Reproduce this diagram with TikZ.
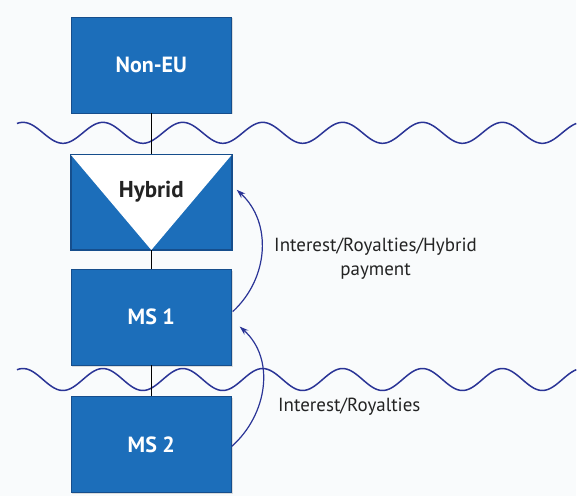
\documentclass[tikz,border=0pt]{standalone}
\usepackage{fontspec}
\setmainfont{PT Sans}
\usetikzlibrary{arrows.meta,shadows}
\definecolor{boxblue}{RGB}{28,110,186}
\definecolor{boxedge}{RGB}{22,78,140}
\definecolor{navy}{RGB}{42,52,150}
\definecolor{bgcol}{RGB}{249,251,252}
\definecolor{txt}{RGB}{35,35,35}
\begin{document}
\begin{tikzpicture}[x=1pt,y=-1pt,
  entity/.style={rectangle, fill=boxblue, draw=boxedge, line width=0.6pt,
    minimum width=161pt, minimum height=96pt, inner sep=0pt,
    text=white, font=\fontsize{22}{26}\selectfont\bfseries,
    drop shadow={shadow xshift=1.5pt, shadow yshift=-1.5pt, opacity=0.25}},
  wave/.style={navy, line width=1.5pt},
  link/.style={black, line width=0.8pt},
  flow/.style={navy, line width=1.2pt, -{Stealth[length=9pt,width=6pt]}},
  lbl/.style={text=txt, font=\fontsize{19}{24}\selectfont, align=center}]
\fill[bgcol] (0,0) rectangle (577,497);
% waves
\draw[wave] plot[domain=17:577, samples=240, smooth] (\x, {133 - 10.5*cos((\x-23)*4.5)});
\draw[wave] plot[domain=17:577, samples=240, smooth] (\x, {380 - 11*cos((\x-23)*4.5)});
% boxes
\node[entity] (noneu) at (151.5,65) {Non-EU};
\node[entity, minimum height=95pt] (hybrid) at (151.5,202.5) {};
\fill[white] (hybrid.north west) -- (hybrid.north east) -- (hybrid.south) -- cycle;
\draw[boxedge, line width=0.6pt] (hybrid.north west) rectangle (hybrid.south east);
\node[text=txt, font=\fontsize{23}{27}\selectfont\bfseries] (hyblbl) at (151.5,192) {Hybrid};
\node[entity] (ms1) at (151.5,317.5) {MS 1};
\node[entity] (ms2) at (151.5,445) {MS 2};
% vertical links
\draw[link] (noneu.south) -- (hybrid.north);
\draw[link] (hybrid.south) -- (ms1.north);
\draw[link] (ms1.south) -- (ms2.north);
% arrows
\coordinate (a1s) at (233,312);
\coordinate (a1e) at (237,190);
\coordinate (a2s) at (232,447);
\coordinate (a2e) at (240,327);
\draw[flow] (a1s) .. controls (269,279) and (273,223) .. (a1e);
\draw[flow] (a2s) .. controls (268,415) and (276,359) .. (a2e);
% labels
\node[lbl] (l1) at (376,259) {Interest/Royalties/Hybrid\\payment};
\node[lbl, anchor=west] (l2) at (275,407) {Interest/Royalties};
\end{tikzpicture}
\end{document}
